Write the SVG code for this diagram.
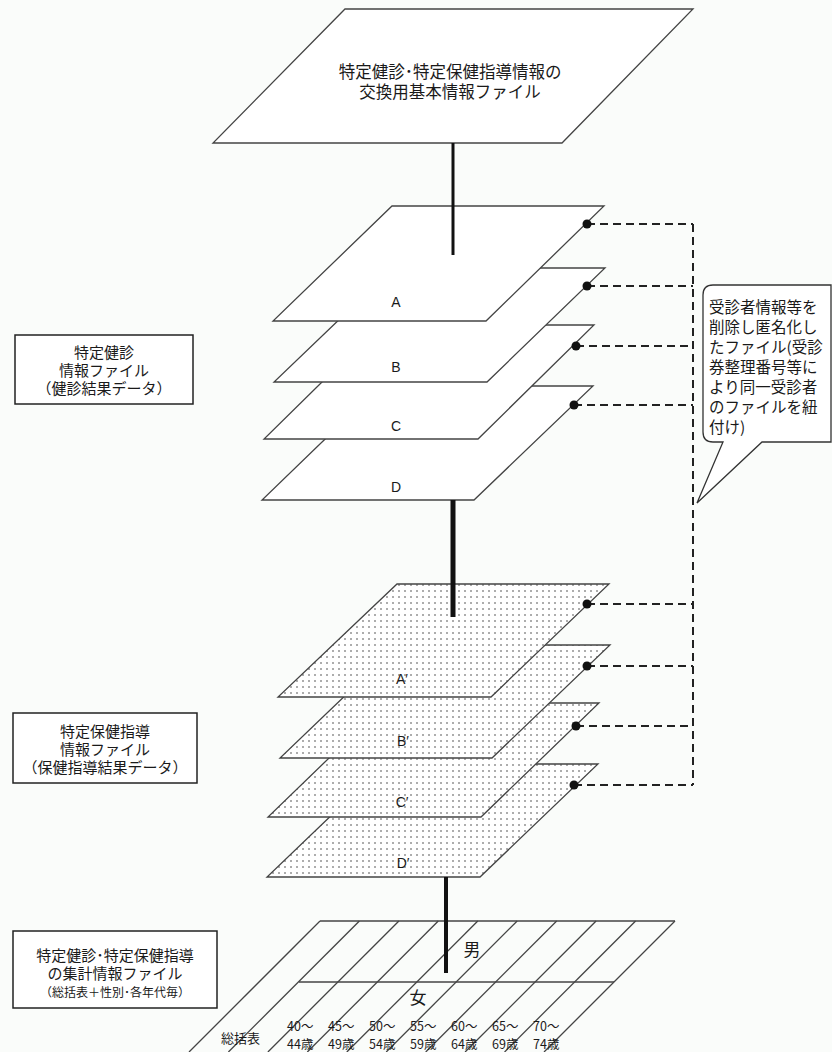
<svg xmlns="http://www.w3.org/2000/svg" width="832" height="1052" viewBox="0 0 832 1052">
<style>
.jp{font-family:"Noto Sans CJK JP","Noto Sans CJK SC",sans-serif;fill:#1a1a1a;}
.lat{font-family:"Liberation Sans",Arial,sans-serif;fill:#1a1a1a;}
.pl{fill:#fff;stroke:#444;stroke-width:1.3;}
.pd{fill:url(#dots);stroke:#444;stroke-width:1.3;}
.box{fill:#fff;stroke:#222;stroke-width:1.5;}
.dash{fill:none;stroke:#222;stroke-width:2;stroke-dasharray:8 5;}
.bar{stroke:#111;fill:none;}
.grid{stroke:#444;stroke-width:1.3;fill:none;}
.dot{fill:#111;}
</style>
<defs>
<pattern id="dots" width="6" height="6" patternUnits="userSpaceOnUse">
<rect width="6" height="6" fill="#fff"/>
<circle cx="3" cy="3" r="0.8" fill="#444"/>
</pattern>
</defs>
<rect width="832" height="1052" fill="#fafcfa"/>

<g id="top-file">
<polygon class="pl" points="345,9 693,9 562,143 213,143"/>
<text class="jp" font-size="16.5" text-anchor="middle" x="450" y="78">特定健診･特定保健指導情報の</text>
<text class="jp" font-size="16.5" text-anchor="middle" x="450" y="98">交換用基本情報ファイル</text>
</g>

<g id="kenshin-stack">
<g id="file-D"><polygon class="pl" points="380,386 593,386 474,500 262,500"/><text class="lat" font-size="14" text-anchor="middle" x="396" y="492">D</text></g>
<g id="file-C"><polygon class="pl" points="380,325 594,325 478,439 264,439"/><text class="lat" font-size="14" text-anchor="middle" x="396" y="431">C</text></g>
<g id="file-B"><polygon class="pl" points="393,268 605,268 487,382 274,382"/><text class="lat" font-size="14" text-anchor="middle" x="396" y="372">B</text></g>
<g id="file-A"><polygon class="pl" points="392,206 604,206 486,321 273,321"/><text class="lat" font-size="14" text-anchor="middle" x="396" y="307">A</text></g>
</g>

<g id="hoken-stack">
<g id="file-Dp"><polygon class="pd" points="385,764 598,764 480,877 267,877"/><text class="lat" font-size="14" text-anchor="middle" x="403" y="868">D′</text></g>
<g id="file-Cp"><polygon class="pd" points="386,703 599,703 481,817 268,817"/><text class="lat" font-size="14" text-anchor="middle" x="402" y="807">C′</text></g>
<g id="file-Bp"><polygon class="pd" points="398,645 610,645 492,758 280,758"/><text class="lat" font-size="14" text-anchor="middle" x="403" y="746">B′</text></g>
<g id="file-Ap"><polygon class="pd" points="397,584 609,584 491,697 278,697"/><text class="lat" font-size="14" text-anchor="middle" x="402" y="684">A′</text></g>
</g>

<g id="aggregate-grid">
<line class="grid" x1="320" y1="921" x2="675" y2="921"/>
<line class="grid" x1="299" y1="982" x2="614" y2="982"/>
<line class="grid" x1="320" y1="921" x2="189" y2="1052"/>
<line class="grid" x1="359.4" y1="921" x2="228.4" y2="1052"/>
<line class="grid" x1="398.9" y1="921" x2="267.9" y2="1052"/>
<line class="grid" x1="438.3" y1="921" x2="307.3" y2="1052"/>
<line class="grid" x1="477.8" y1="921" x2="346.8" y2="1052"/>
<line class="grid" x1="517.2" y1="921" x2="386.2" y2="1052"/>
<line class="grid" x1="556.7" y1="921" x2="425.7" y2="1052"/>
<line class="grid" x1="596.1" y1="921" x2="465.1" y2="1052"/>
<line class="grid" x1="635.6" y1="921" x2="504.6" y2="1052"/>
<line class="grid" x1="675" y1="921" x2="544" y2="1052"/>
<text class="jp" font-size="17" text-anchor="middle" x="472" y="956">男</text>
<text class="jp" font-size="17" text-anchor="middle" x="418" y="1004">女</text>
<text class="jp" font-size="13" x="221" y="1043">総括表</text>
<g class="jp" font-size="12.5">
<text x="287" y="1031">40～</text><text x="287" y="1049">44歳</text>
<text x="328" y="1031">45～</text><text x="328" y="1049">49歳</text>
<text x="369" y="1031">50～</text><text x="369" y="1049">54歳</text>
<text x="410" y="1031">55～</text><text x="410" y="1049">59歳</text>
<text x="451" y="1031">60～</text><text x="451" y="1049">64歳</text>
<text x="492" y="1031">65～</text><text x="492" y="1049">69歳</text>
<text x="533" y="1031">70～</text><text x="533" y="1049">74歳</text>
</g>
</g>

<g id="label-kenshin">
<rect class="box" x="15" y="335" width="178" height="69"/>
<text class="jp" font-size="15" text-anchor="middle" x="104" y="358">特定健診</text>
<text class="jp" font-size="15" text-anchor="middle" x="104" y="376">情報ファイル</text>
<text class="jp" font-size="15" text-anchor="middle" x="104" y="394">（健診結果データ）</text>
</g>

<g id="label-hoken">
<rect class="box" x="13" y="713" width="184" height="70"/>
<text class="jp" font-size="15" text-anchor="middle" x="105" y="737">特定保健指導</text>
<text class="jp" font-size="15" text-anchor="middle" x="105" y="755">情報ファイル</text>
<text class="jp" font-size="15" text-anchor="middle" x="105" y="773">（保健指導結果データ）</text>
</g>

<g id="label-aggregate">
<rect class="box" x="13" y="931" width="204" height="77"/>
<text class="jp" font-size="15" text-anchor="middle" x="115" y="961">特定健診･特定保健指導</text>
<text class="jp" font-size="15" text-anchor="middle" x="115" y="979">の集計情報ファイル</text>
<text class="jp" font-size="12" text-anchor="middle" x="115" y="997">（総括表＋性別･各年代毎）</text>
</g>

<g id="callout">
<path d="M713,285 H831 V442 H762 L697,503 L723,442 H713 Q703,442 703,432 V295 Q703,285 713,285 Z" fill="#fff" stroke="#333" stroke-width="1.3"/>
<g class="jp" font-size="15.5">
<text x="709" y="313">受診者情報等を</text>
<text x="709" y="333">削除し匿名化し</text>
<text x="709" y="353">たファイル(受診</text>
<text x="709" y="373">券整理番号等に</text>
<text x="709" y="393">より同一受診者</text>
<text x="709" y="413">のファイルを紐</text>
<text x="709" y="433">付け)</text>
</g>
</g>

<g id="connectors">
<line class="bar" x1="453" y1="143" x2="453" y2="255" stroke-width="3"/>
<line class="bar" x1="453" y1="500" x2="453" y2="617" stroke-width="5"/>
<line class="bar" x1="446" y1="877" x2="446" y2="973" stroke-width="4"/>
<path class="dash" d="M587,224 H693 M587,286 H693 M576,346 H693 M574,405 H693 M587,604 H693 M587,666 H693 M576,726 H693 M574,785 H693 M693,224 V785"/>
<circle class="dot" cx="587" cy="224" r="4.5"/>
<circle class="dot" cx="587" cy="286" r="4.5"/>
<circle class="dot" cx="576" cy="346" r="4.5"/>
<circle class="dot" cx="574" cy="405" r="4.5"/>
<circle class="dot" cx="587" cy="604" r="4.5"/>
<circle class="dot" cx="587" cy="666" r="4.5"/>
<circle class="dot" cx="576" cy="726" r="4.5"/>
<circle class="dot" cx="574" cy="785" r="4.5"/>
</g>
</svg>
